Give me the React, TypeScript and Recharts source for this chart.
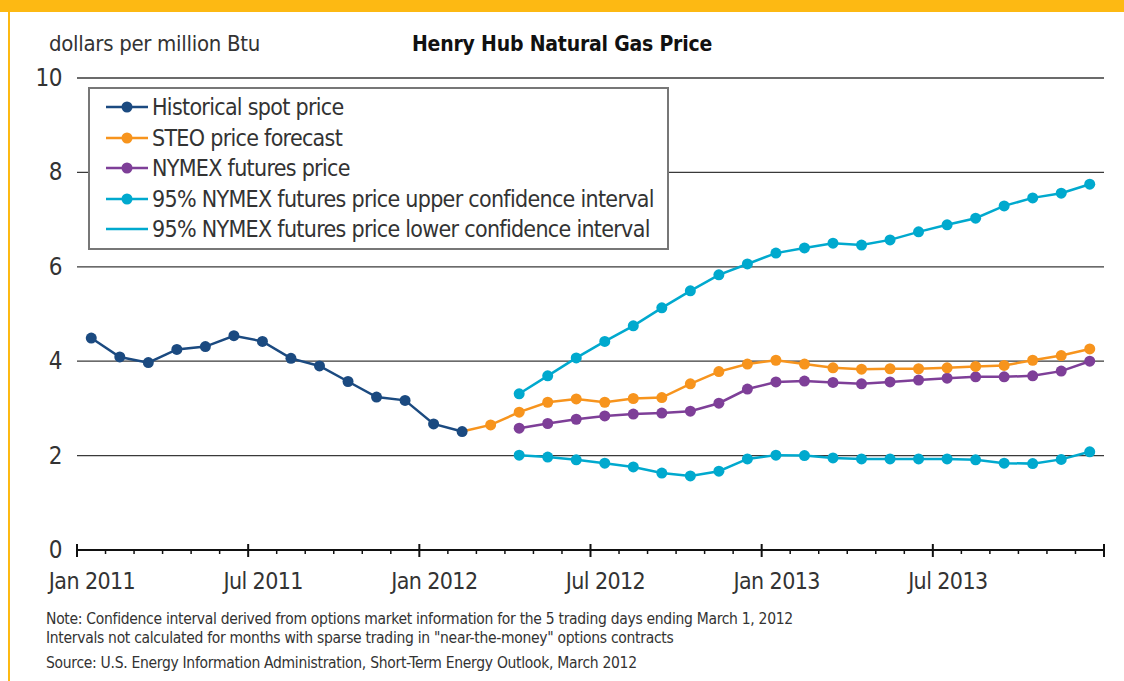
import { LineChart, Line, XAxis, YAxis, CartesianGrid } from "recharts";

const FONT = "'Liberation Sans Narrow', 'DejaVu Sans Condensed', 'Arial Narrow', 'Liberation Sans', sans-serif";

// month index 0 = Jan 2011 ... 35 = Dec 2013
const histStart = 0;
const historical = [4.49, 4.09, 3.97, 4.25, 4.31, 4.54, 4.42, 4.06, 3.9, 3.57, 3.24, 3.17, 2.67, 2.51];

const steoStart = 13;
const steo = [
  2.51, 2.65, 2.92, 3.13, 3.2, 3.13, 3.21, 3.23, 3.52, 3.78, 3.94, 4.02, 3.94, 3.86, 3.83, 3.84, 3.84, 3.86,
  3.89, 3.91, 4.02, 4.12, 4.26,
];

const futStart = 15;
const nymex = [
  2.58, 2.68, 2.77, 2.84, 2.88, 2.9, 2.94, 3.11, 3.41, 3.56, 3.58, 3.55, 3.52, 3.56, 3.6, 3.64, 3.67, 3.67, 3.69,
  3.79, 4.0,
];
const upperCI = [
  3.31, 3.69, 4.07, 4.42, 4.75, 5.13, 5.49, 5.83, 6.06, 6.29, 6.4, 6.5, 6.46, 6.57, 6.74, 6.89, 7.03, 7.29, 7.46,
  7.56, 7.75,
];
const lowerCI = [
  2.01, 1.97, 1.91, 1.84, 1.76, 1.63, 1.57, 1.67, 1.93, 2.01, 2.0, 1.95, 1.93, 1.93, 1.93, 1.93, 1.91, 1.84, 1.83,
  1.92, 2.08,
];

const monthTicks = Array.from({ length: 37 }, (_, i) => i);
const majorLabels: Record<number, string> = {
  0: "Jan 2011",
  6: "Jul 2011",
  12: "Jan 2012",
  18: "Jul 2012",
  24: "Jan 2013",
  30: "Jul 2013",
};
const yTicks = [0, 2, 4, 6, 8, 10];

const COLORS = {
  hist: "#1b4a80",
  steo: "#f7941d",
  nymex: "#7e3f98",
  ci: "#00a9ce",
};

const legendItems = [
  { label: "Historical spot price", color: COLORS.hist, dot: true },
  { label: "STEO price forecast", color: COLORS.steo, dot: true },
  { label: "NYMEX futures price", color: COLORS.nymex, dot: true },
  { label: "95% NYMEX futures price upper confidence interval", color: COLORS.ci, dot: true },
  { label: "95% NYMEX futures price lower confidence interval", color: COLORS.ci, dot: false },
];

const pick = (arr: number[], start: number, i: number) =>
  i >= start && i - start < arr.length ? arr[i - start] : null;

const data = Array.from({ length: 36 }, (_, i) => ({
  x: i + 0.5,
  hist: pick(historical, histStart, i),
  steo: pick(steo, steoStart, i),
  nymex: pick(nymex, futStart, i),
  upper: pick(upperCI, futStart, i),
  lower: pick(lowerCI, futStart, i),
}));

const XTick = (props: any) => {
  const { x, y, payload } = props;
  const v = payload.value;
  const major = v % 6 === 0;
  const label = majorLabels[v];
  return (
    <g>
      {major ? (
        <line x1={x} x2={x} y1={y - 6} y2={y + 7} stroke="#111" strokeWidth={2} />
      ) : (
        <line x1={x} x2={x} y1={y} y2={y + 4} stroke="#111" strokeWidth={1.5} />
      )}
      {label && (
        <text
          x={x + 15}
          y={y + 39}
          textAnchor="middle"
          fontSize={23}
          letterSpacing={-0.6}
          fill="#333"
          fontFamily={FONT}
        >
          {label}
        </text>
      )}
    </g>
  );
};

const YTick = (props: any) => {
  const { x, y, payload } = props;
  return (
    <text x={x} y={y + 8} textAnchor="end" fontSize={24} letterSpacing={-0.5} fill="#333" fontFamily={FONT}>
      {payload.value}
    </text>
  );
};

const makeDot = (color: string, skipFirst = false) => (props: any) => {
  const { cx, cy, index, value } = props;
  if ((skipFirst && index === steoStart) || value == null || cx == null) return <g key={index} />;
  return <circle key={index} cx={cx} cy={cy} r={5.5} fill={color} stroke="none" />;
};

const LegendBox = () => (
  <div
    style={{
      position: "absolute",
      left: 88,
      top: 87,
      width: 581,
      height: 163,
      border: "2px solid #777",
      background: "#fff",
      boxSizing: "border-box",
      paddingTop: 3,
    }}
  >
    {legendItems.map((item) => (
      <div key={item.label} style={{ display: "flex", alignItems: "center", height: 30.5 }}>
        <svg width={62} height={20} style={{ flex: "none" }}>
          <line x1={16} x2={58} y1={10} y2={10} stroke={item.color} strokeWidth={2.5} />
          {item.dot && <circle cx={37} cy={10} r={5.5} fill={item.color} />}
        </svg>
        <span
          style={{ fontFamily: FONT, fontSize: 23, letterSpacing: -0.7, color: "#333", whiteSpace: "nowrap" }}
        >
          {item.label}
        </span>
      </div>
    ))}
  </div>
);

export default function App() {
  return (
    <div style={{ position: "absolute", left: 0, top: 0, width: 1124, height: 681, background: "#fff" }}>
      <div style={{ position: "absolute", left: 0, top: 0, width: 1124, height: 12, background: "#fdb913" }} />
      <div style={{ position: "absolute", left: 8, top: 0, width: 2, height: 681, background: "#fdb913" }} />
      <div
        style={{
          position: "absolute",
          left: 49,
          top: 31,
          fontFamily: FONT,
          fontSize: 22,
          letterSpacing: -0.3,
          color: "#333",
        }}
      >
        dollars per million Btu
      </div>
      <div
        style={{
          position: "absolute",
          left: 412,
          top: 32,
          fontFamily: FONT,
          fontSize: 21,
          letterSpacing: -0.2,
          fontWeight: "bold",
          color: "#111",
        }}
      >
        Henry Hub Natural Gas Price
      </div>
      <div style={{ position: "absolute", left: 0, top: 0 }}>
        <LineChart width={1124} height={681} data={data} margin={{ top: 78, right: 20, bottom: 91, left: 17 }}>
          <CartesianGrid horizontal vertical={false} stroke="#3a3a3a" strokeWidth={1.3} />
          <XAxis
            dataKey="x"
            type="number"
            domain={[0, 36]}
            ticks={monthTicks}
            interval={0}
            tick={<XTick />}
            tickSize={0}
            tickMargin={0}
            tickLine={false}
            axisLine={{ stroke: "#111", strokeWidth: 2 }}
            height={40}
          />
          <YAxis
            type="number"
            domain={[0, 10]}
            ticks={yTicks}
            interval={0}
            width={60}
            tickSize={0}
            tickMargin={15}
            tick={<YTick />}
            axisLine={false}
            tickLine={false}
          />
          <Line
            dataKey="upper"
            stroke={COLORS.ci}
            strokeWidth={2.5}
            dot={makeDot(COLORS.ci)}
            activeDot={false}
            isAnimationActive={false}
          />
          <Line
            dataKey="lower"
            stroke={COLORS.ci}
            strokeWidth={2.5}
            dot={makeDot(COLORS.ci)}
            activeDot={false}
            isAnimationActive={false}
          />
          <Line
            dataKey="nymex"
            stroke={COLORS.nymex}
            strokeWidth={2.5}
            dot={makeDot(COLORS.nymex)}
            activeDot={false}
            isAnimationActive={false}
          />
          <Line
            dataKey="steo"
            stroke={COLORS.steo}
            strokeWidth={2.5}
            dot={makeDot(COLORS.steo, true)}
            activeDot={false}
            isAnimationActive={false}
          />
          <Line
            dataKey="hist"
            stroke={COLORS.hist}
            strokeWidth={2.5}
            dot={makeDot(COLORS.hist)}
            activeDot={false}
            isAnimationActive={false}
          />
        </LineChart>
      </div>
      <LegendBox />
      <div
        style={{
          position: "absolute",
          left: 46,
          top: 610,
          fontFamily: FONT,
          fontSize: 15.5,
          letterSpacing: -0.3,
          color: "#333",
          lineHeight: "19px",
        }}
      >
        <div>Note: Confidence interval derived from options market information for the 5 trading days ending March 1, 2012</div>
        <div>Intervals not calculated for months with sparse trading in "near-the-money" options contracts</div>
        <div style={{ marginTop: 6 }}>Source: U.S. Energy Information Administration, Short-Term Energy Outlook, March 2012</div>
      </div>
    </div>
  );
}
